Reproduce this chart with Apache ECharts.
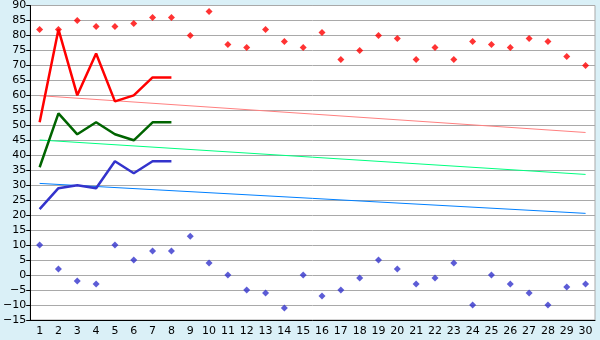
<!DOCTYPE html>
<html><head><meta charset="utf-8">
<script src="https://cdn.jsdelivr.net/npm/echarts@6/dist/echarts.min.js"></script>
<style>html,body{margin:0;padding:0;background:#daf0f7;}#c{width:600px;height:340px;}</style>
</head><body><div id="c"></div>
<script>
const categories = ['1','2','3','4','5','6','7','8','9','10','11','12','13','14','15','16','17','18','19','20','21','22','23','24','25','26','27','28','29','30'];
const highPoints = [82,82,85,83,83,84,86,86,80,88,77,76,82,78,76,81,72,75,80,79,72,76,72,78,77,76,79,78,73,70];
const lowPoints = [10,2,-2,-3,10,5,8,8,13,4,0,-5,-6,-11,0,-7,-5,-1,5,2,-3,-1,4,-10,0,-3,-6,-10,-4,-3];
const redLine = [51,82,60,74,58,60,66,66];
const greenLine = [36,54,47,51,47,45,51,51];
const blueLine = [22,29,30,29,38,34,38,38];
const redTrend = [59.9, 47.6];
const greenTrend = [45.1, 33.6];
const blueTrend = [30.6, 20.6];

function trend(ends){
  const a = categories.map(()=>null);
  a[0]=ends[0]; a[a.length-1]=ends[1];
  return a;
}
const chart = echarts.init(document.getElementById('c'));
const lineCommon = {type:'line', symbol:'none', animation:false};
chart.setOption({
  backgroundColor:'#daf0f7',
  animation:false,
  grid:{left:26,right:5,top:5,bottom:20,show:true,backgroundColor:'#ffffff',borderColor:'#a9a9a9',borderWidth:1},
  xAxis:{type:'category',data:categories,boundaryGap:true,
    axisLine:{onZero:false,lineStyle:{color:'#000',width:1}},
    axisTick:{alignWithLabel:true,length:5,lineStyle:{color:'#000'}},
    axisLabel:{color:'#000',fontFamily:'DejaVu Sans',fontSize:11,margin:6,interval:0},
    splitLine:{show:false}},
  yAxis:{type:'value',min:-15,max:90,interval:5,
    axisLine:{show:true,onZero:false,lineStyle:{color:'#000',width:1}},
    axisTick:{show:true,length:4,lineStyle:{color:'#000'}},
    axisLabel:{color:'#000',fontFamily:'DejaVu Sans',fontSize:11,margin:4,
      formatter:v=>String(v).replace('-','\u2212')},
    splitLine:{lineStyle:{color:'#a9a9a9',width:1}}},
  series:[
    Object.assign({},lineCommon,{data:trend(redTrend),connectNulls:true,lineStyle:{color:'#ff8080',width:1}}),
    Object.assign({},lineCommon,{data:trend(greenTrend),connectNulls:true,lineStyle:{color:'#00ff80',width:1}}),
    Object.assign({},lineCommon,{data:trend(blueTrend),connectNulls:true,lineStyle:{color:'#0080ff',width:1}}),
    Object.assign({},lineCommon,{data:redLine,lineStyle:{color:'#ff0000',width:2.5}}),
    Object.assign({},lineCommon,{data:greenLine,lineStyle:{color:'#006400',width:2.5}}),
    Object.assign({},lineCommon,{data:blueLine,lineStyle:{color:'#3333cc',width:2.5}}),
    {type:'scatter',data:highPoints,symbol:'diamond',symbolSize:7,itemStyle:{color:'#ff0000'},animation:false},
    {type:'scatter',data:lowPoints,symbol:'diamond',symbolSize:7,itemStyle:{color:'#3333cc'},animation:false}
  ]
});
</script></body></html>
